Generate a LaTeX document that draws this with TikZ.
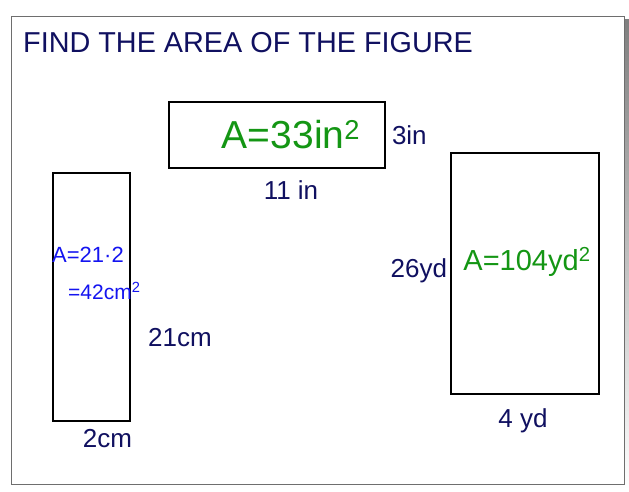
\documentclass[tikz,border=0pt]{standalone}
\usepackage{fontspec}
\setmainfont{Liberation Sans}
\usetikzlibrary{positioning}
\definecolor{navy}{RGB}{16,16,96}
\definecolor{penblue}{RGB}{20,20,240}
\definecolor{pengreen}{RGB}{20,150,20}
\definecolor{shade}{RGB}{110,110,110}

\begin{document}
\begin{tikzpicture}[x=1pt,y=-1pt, node distance=6pt,
  every node/.style={font=\fontsize{26}{28}\selectfont,text=navy,inner sep=0pt},
  fig/.style={draw=black,line width=1.6pt,minimum width=#1},
  ans/.style={font=\fontsize{39}{41}\selectfont,text=pengreen}]
  \useasboundingbox (0,0) rectangle (629,492);
  % page with its shadow
  \fill[shade] (15,20) rectangle (629.5,489.5);
  \draw[fill=white,draw=shade,line width=0.8pt] (11,16) rectangle (624.5,484.5);
  \node[anchor=west,font=\fontsize{28.8}{30}\selectfont] (title) at (23,43) {FIND THE AREA OF THE FIGURE};
  % the three rectangles
  \node[fig=216pt,minimum height=66pt] (top) at (277,135) {};
  \node[fig=77pt,minimum height=248pt] (left) at (91.5,297) {};
  \node[fig=148pt,minimum height=241pt] (right) at (525,273.5) {};
  % side lengths
  \node[right=6pt of top] (topside) {3in};
  \node[below=12pt of top,xshift=14pt] (topbase) {11 in};
  \node (leftside) at (180,338) {21cm};
  \node[below=7pt of left,xshift=16pt] (leftbase) {2cm};
  \node[left=3pt of right,yshift=3pt] (rightside) {26yd};
  \node[below=14pt of right,xshift=-2pt] (rightbase) {4 yd};
  % worked answers
  \node[ans] (topans) at (291,135) {A=33in\textsuperscript{2}};
  \node[ans,font=\fontsize{29}{31}\selectfont] (rightans) at (527,262) {A=104yd\textsuperscript{2}};
  \node[ans,text=penblue,font=\fontsize{22}{24}\selectfont,anchor=west] (leftans) at (52,255) {A=21·2};
  \node[ans,text=penblue,font=\fontsize{21}{23}\selectfont,anchor=west] (leftans2) at (68,291) {=42cm\textsuperscript{2}};
\end{tikzpicture}
\end{document}
